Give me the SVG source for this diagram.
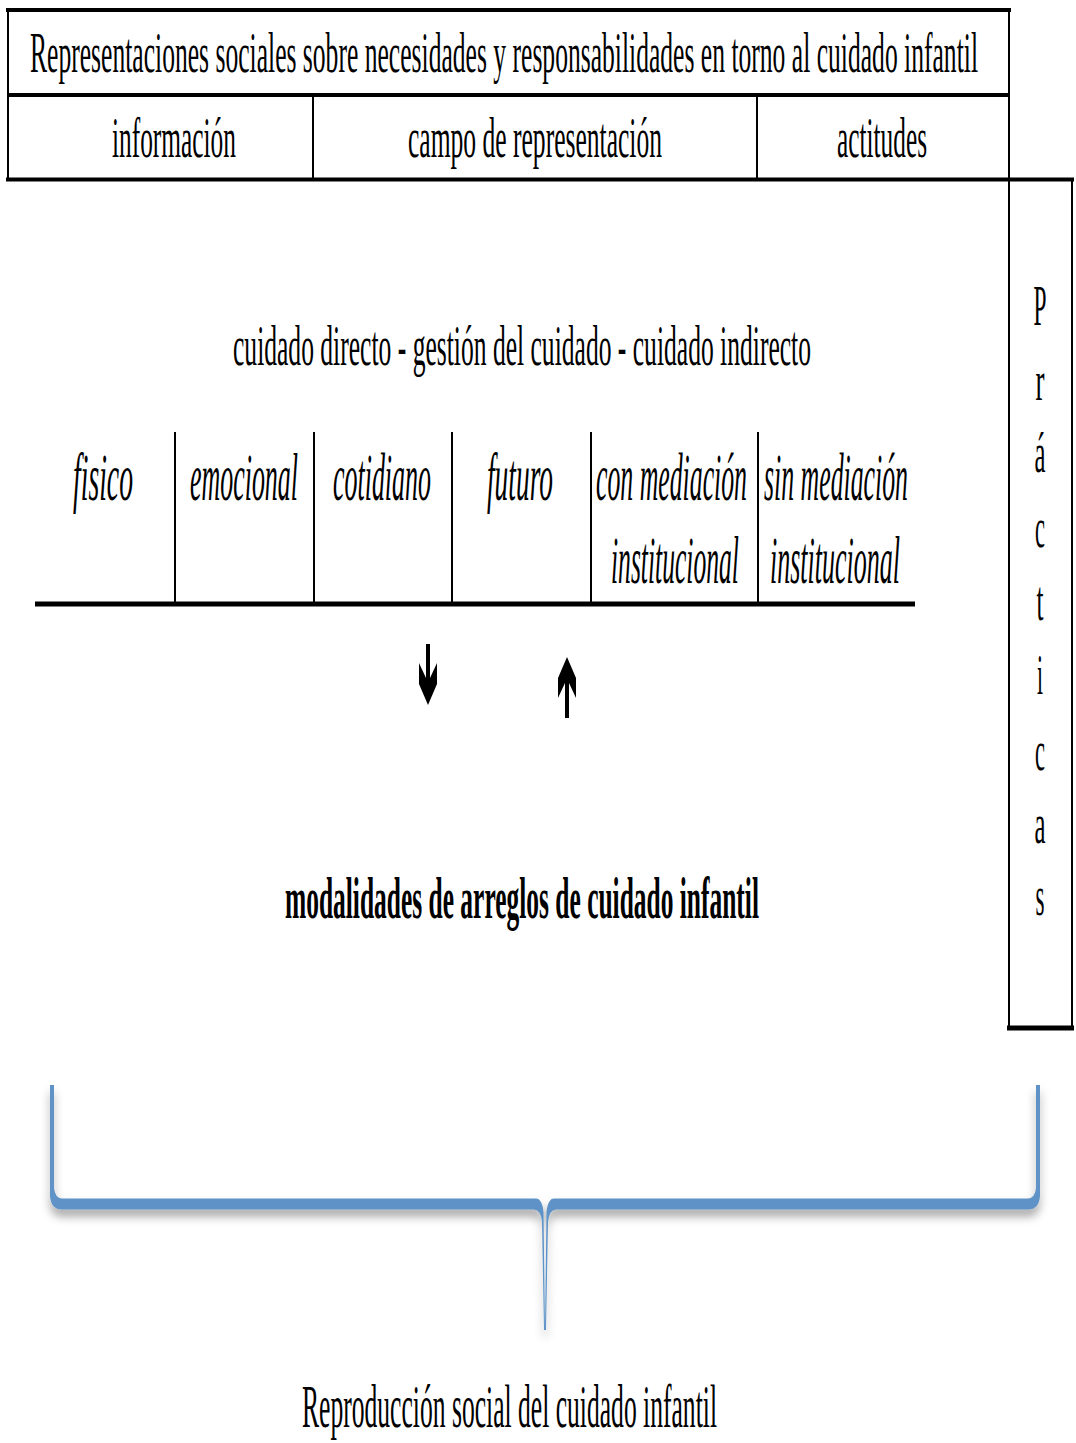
<svg xmlns="http://www.w3.org/2000/svg" width="1076" height="1443" viewBox="0 0 1076 1443">
  <defs>
    <style>
      .t { font-family: "Liberation Serif", "Times New Roman", serif; fill: #000; }
      .r { font-size: 58px; }
      .i { font-size: 68px; font-style: italic; }
      .b { font-size: 59px; font-weight: bold; }
      .ln { stroke: #000; fill: none; }
      .arrow { fill: #000; }
      .brace { fill: #5e93c7; }
    </style>
    <filter id="shadow" x="-5%" y="-20%" width="110%" height="160%">
      <feDropShadow dx="0" dy="7" stdDeviation="5" flood-color="#000" flood-opacity="0.35"/>
    </filter>
  </defs>

  <rect width="1076" height="1443" fill="#fff"/>

  <!-- header table; all texts use a condensed face: Times-like glyphs squeezed to 40% width -->
  <g id="header">
    <line class="ln" x1="6" y1="10" x2="1011" y2="10" stroke-width="4"/>
    <line class="ln" x1="8" y1="9" x2="8" y2="181" stroke-width="2"/>
    <line class="ln" x1="1009" y1="9" x2="1009" y2="181" stroke-width="2"/>
    <line class="ln" x1="7" y1="95" x2="1010" y2="95" stroke-width="4"/>
    <line class="ln" x1="313" y1="95" x2="313" y2="179" stroke-width="2"/>
    <line class="ln" x1="757" y1="95" x2="757" y2="179" stroke-width="2"/>
    <line class="ln" x1="6" y1="179.5" x2="1074" y2="179.5" stroke-width="4"/>
    <g transform="scale(0.4 1)">
      <text class="t r" x="75" y="72" textLength="2370" lengthAdjust="spacingAndGlyphs">Representaciones sociales sobre necesidades y responsabilidades en torno al cuidado infantil</text>
    </g>
  </g>
  <g id="informacion" transform="scale(0.4 1)">
    <text class="t r" x="280" y="157" textLength="310" lengthAdjust="spacingAndGlyphs">información</text>
  </g>
  <g id="campo" transform="scale(0.4 1)">
    <text class="t r" x="1020" y="157" textLength="635" lengthAdjust="spacingAndGlyphs">campo de representación</text>
  </g>
  <g id="actitudes" transform="scale(0.4 1)">
    <text class="t r" x="2092.5" y="157" textLength="225" lengthAdjust="spacingAndGlyphs">actitudes</text>
  </g>

  <!-- side column -->
  <g id="practicas">
    <line class="ln" x1="1009" y1="179" x2="1009" y2="1030" stroke-width="2"/>
    <line class="ln" x1="1072" y1="179" x2="1072" y2="1030" stroke-width="2"/>
    <line class="ln" x1="1007" y1="1028" x2="1074" y2="1028" stroke-width="5"/>
    <g class="t r" text-anchor="middle" transform="scale(0.4 1)">
      <text x="2600" y="325" textLength="32.5" lengthAdjust="spacingAndGlyphs">P</text>
      <text x="2600" y="400" textLength="22.5" lengthAdjust="spacingAndGlyphs">r</text>
      <text x="2600" y="472" textLength="27.5" lengthAdjust="spacingAndGlyphs">á</text>
      <text x="2600" y="547" textLength="25" lengthAdjust="spacingAndGlyphs">c</text>
      <text x="2600" y="620" textLength="17.5" lengthAdjust="spacingAndGlyphs">t</text>
      <text x="2600" y="694" textLength="15" lengthAdjust="spacingAndGlyphs">i</text>
      <text x="2600" y="770" textLength="25" lengthAdjust="spacingAndGlyphs">c</text>
      <text x="2600" y="843" textLength="27.5" lengthAdjust="spacingAndGlyphs">a</text>
      <text x="2600" y="915" textLength="22.5" lengthAdjust="spacingAndGlyphs">s</text>
    </g>
  </g>

  <!-- care dimensions -->
  <g id="dimensiones" transform="scale(0.4 1)">
    <text class="t r" x="582.5" y="365" textLength="1445" lengthAdjust="spacingAndGlyphs">cuidado directo - gestión del cuidado - cuidado indirecto</text>
  </g>

  <g id="tipos">
    <line class="ln" x1="35" y1="604" x2="915" y2="604" stroke-width="5"/>
    <line class="ln" x1="175" y1="432" x2="175" y2="604" stroke-width="2"/>
    <line class="ln" x1="314" y1="432" x2="314" y2="604" stroke-width="2"/>
    <line class="ln" x1="452" y1="432" x2="452" y2="604" stroke-width="2"/>
    <line class="ln" x1="591" y1="432" x2="591" y2="604" stroke-width="2"/>
    <line class="ln" x1="758" y1="432" x2="758" y2="604" stroke-width="2"/>
    <g transform="scale(0.4 1)">
      <text class="t i" x="182.5" y="500" textLength="150" lengthAdjust="spacingAndGlyphs">fisico</text>
      <text class="t i" x="475" y="500" textLength="270" lengthAdjust="spacingAndGlyphs">emocional</text>
      <text class="t i" x="832.5" y="500" textLength="245" lengthAdjust="spacingAndGlyphs">cotidiano</text>
      <text class="t i" x="1217.5" y="500" textLength="165" lengthAdjust="spacingAndGlyphs">futuro</text>
      <text class="t i" x="1490" y="500" textLength="377.5" lengthAdjust="spacingAndGlyphs">con mediación</text>
      <text class="t i" x="1527.5" y="583" textLength="320" lengthAdjust="spacingAndGlyphs">institucional</text>
      <text class="t i" x="1910" y="500" textLength="360" lengthAdjust="spacingAndGlyphs">sin mediación</text>
      <text class="t i" x="1925" y="583" textLength="325" lengthAdjust="spacingAndGlyphs">institucional</text>
    </g>
  </g>

  <!-- arrows -->
  <g id="connectors">
    <polygon class="arrow" points="426,644 430,644 430,678 437,663 437,684 428,705 419,684 419,663 426,678"/>
    <polygon class="arrow" points="565,718 569,718 569,683 576,698 576,678 567,657 558,678 558,698 565,683"/>
  </g>

  <g id="modalidades" transform="scale(0.4 1)">
    <text class="t b" x="712.5" y="918" textLength="1185" lengthAdjust="spacingAndGlyphs">modalidades de arreglos de cuidado infantil</text>
  </g>

  <!-- brace -->
  <g id="llave" filter="url(#shadow)">
    <path class="brace" d="M50 1085 L54 1085 L54 1188 Q55 1198 62 1198.5 L536 1198.5 Q542 1198.5 543.5 1212 L545 1328 L546.5 1212 Q548 1198.5 554 1198.5 L1028 1198.5 Q1035 1198 1036 1188 L1036 1085 L1040 1085 L1040 1196 Q1039 1209.5 1028 1209.5 L556 1209.5 Q549 1210 548 1222 L546 1330 L544 1330 L542 1222 Q541 1210 534 1209.5 L62 1209.5 Q51 1209.5 50 1196 Z"/>
  </g>

  <g id="reproduccion" transform="scale(0.4 1)">
    <text class="t" font-size="62" x="755" y="1427" textLength="1037.5" lengthAdjust="spacingAndGlyphs">Reproducción social del cuidado infantil</text>
  </g>
</svg>
